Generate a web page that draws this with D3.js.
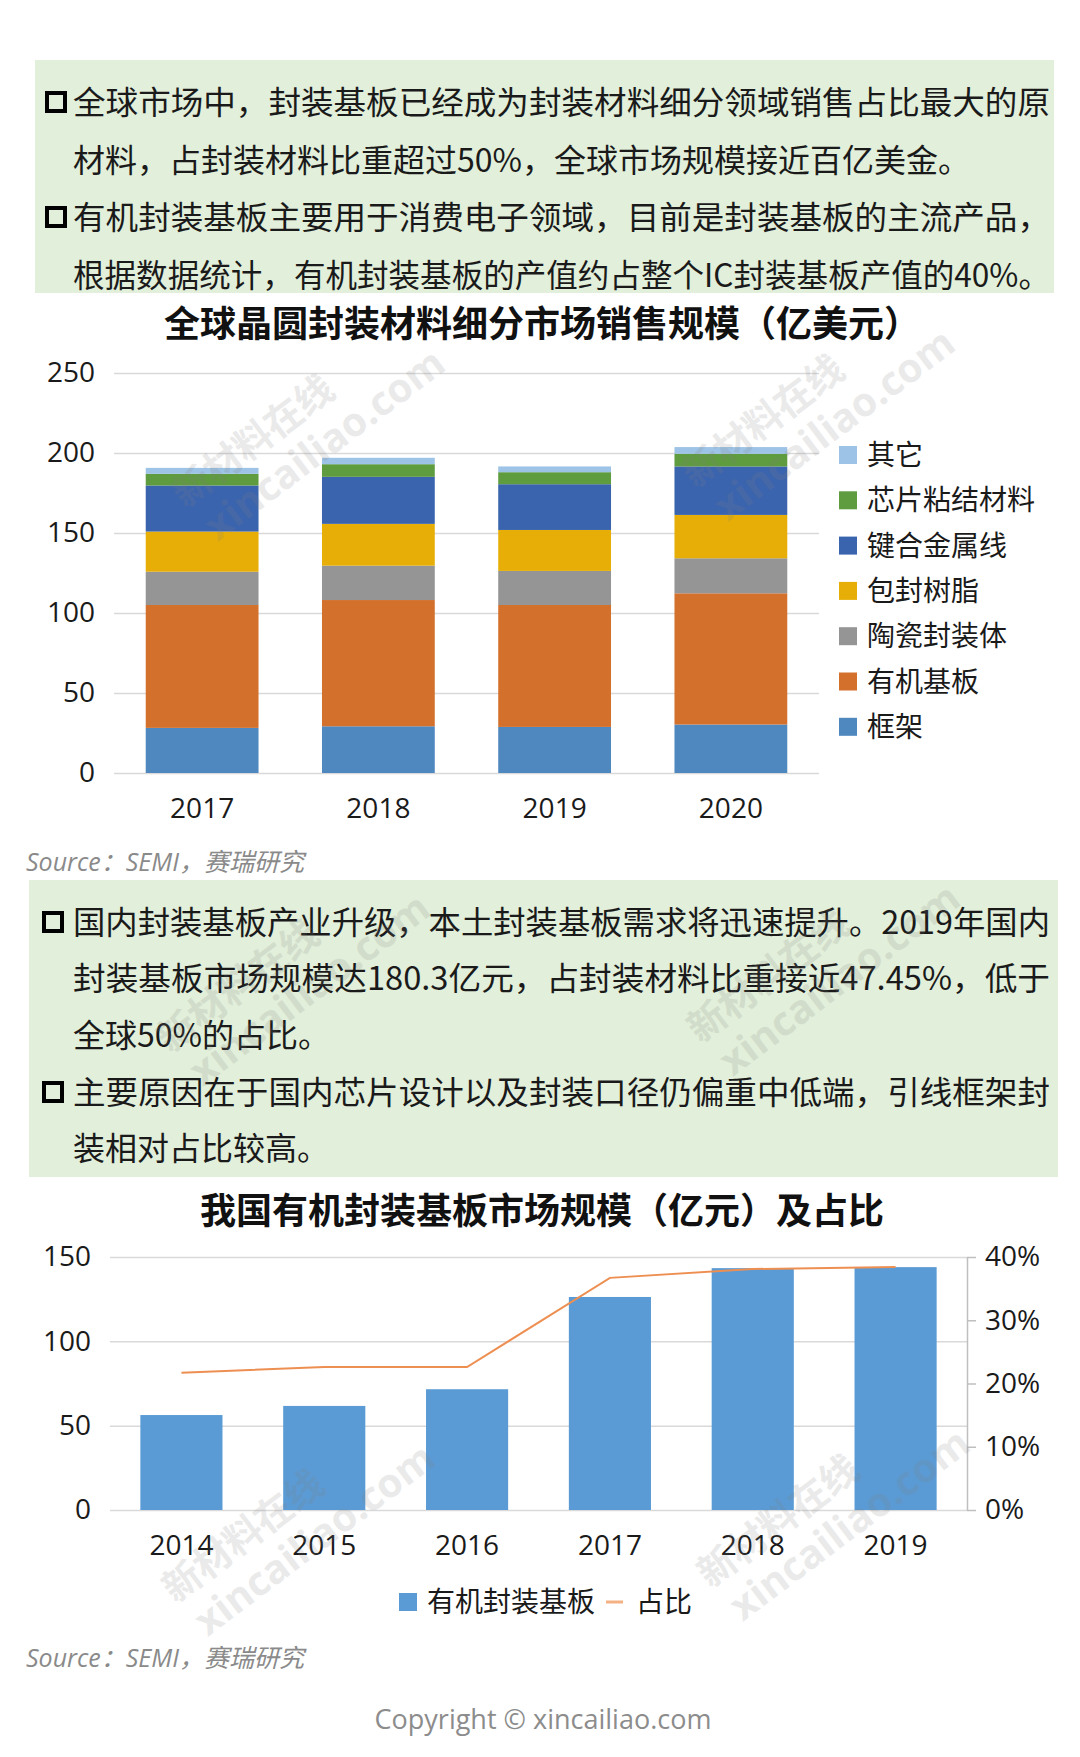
<!DOCTYPE html>
<html>
<head>
<meta charset="utf-8">
<script src="https://cdn.jsdelivr.net/npm/d3@7"></script>
<style>
  body { margin: 0; background: #fff; }
  svg { display: block; }
</style>
</head>
<body>
<svg id="page" width="1080" height="1757"></svg>
<script>
// ---- data: global packaging materials (100M USD) ----
const years1 = ['2017', '2018', '2019', '2020'];
const materials = ['框架', '有机基板', '陶瓷封装体', '包封树脂', '键合金属线', '芯片粘结材料', '其它'];
const frame    = [28.2, 29.2, 28.8, 30.3];
const organic  = [76.8, 78.9, 76.2, 82.0];
const ceramic  = [20.8, 21.5, 21.3, 21.9];
const resin    = [25.1, 26.1, 25.6, 27.1];
const wire     = [28.8, 29.4, 28.6, 30.3];
const adhesive = [7.3, 7.9, 7.5, 7.9];
const other    = [3.7, 4.0, 3.6, 4.2];
const yTicks1 = [0, 50, 100, 150, 200, 250];

// ---- data: domestic organic substrate (100M CNY) and share ----
const years2 = ['2014', '2015', '2016', '2017', '2018', '2019'];
const substrate = [56.3, 61.7, 71.6, 126.3, 143.4, 144.0];
const share = [0.217, 0.226, 0.226, 0.367, 0.381, 0.384];
const yTicks2 = [0, 50, 100, 150];
const rTicks2 = [0, 0.1, 0.2, 0.3, 0.4];

// ---- texts ----
const title1 = '全球晶圆封装材料细分市场销售规模（亿美元）';
const title2 = '我国有机封装基板市场规模（亿元）及占比';
const box1Paras = [
  ['全球市场中，封装基板已经成为封装材料细分领域销售占比最大的原',
   '材料，占封装材料比重超过50%，全球市场规模接近百亿美金。'],
  ['有机封装基板主要用于消费电子领域，目前是封装基板的主流产品，',
   '根据数据统计，有机封装基板的产值约占整个IC封装基板产值的40%。']
];
const box2Paras = [
  ['国内封装基板产业升级，本土封装基板需求将迅速提升。2019年国内',
   '封装基板市场规模达180.3亿元，占封装材料比重接近47.45%，低于',
   '全球50%的占比。'],
  ['主要原因在于国内芯片设计以及封装口径仍偏重中低端，引线框架封',
   '装相对占比较高。']
];
const sourceText = 'Source：SEMI，赛瑞研究';
const copyright = 'Copyright © xincailiao.com';
const legend2 = ['有机封装基板', '占比'];

const CJK = '"Noto Sans CJK SC", sans-serif';
const NUM = '"Open Sans", "Noto Sans CJK SC", sans-serif';
const matColors = ['#4F88BF', '#D3702C', '#959595', '#E6AE06', '#3B64AE', '#5F9B3F', '#9DC3E6'];

const svg = d3.select('#page');

// text block on green background
function textBox(rect, paras, lineYs, bulletX) {
  svg.append('rect')
    .attr('x', rect[0]).attr('y', rect[1]).attr('width', rect[2]).attr('height', rect[3])
    .attr('fill', '#E2EFDA');
  let k = 0;
  paras.forEach(lines => {
    lines.forEach((ln, j) => {
      const y = lineYs[k++];
      if (j === 0) {
        svg.append('rect')
          .attr('x', bulletX + 2).attr('y', y - 9).attr('width', 18).attr('height', 18)
          .attr('fill', 'none').attr('stroke', '#000').attr('stroke-width', 4);
      }
      const t = svg.append('text')
        .attr('x', 73).attr('y', y).attr('dy', '0.36em')
        .attr('font-family', CJK).attr('font-size', 32).attr('fill', '#1a1a1a')
        .text(ln);
      // lines that run to the right edge are fitted to it
      if (t.node().getComputedTextLength() > 930) {
        t.attr('textLength', 977).attr('lengthAdjust', 'spacingAndGlyphs');
      }
    });
  });
}

textBox([35, 60, 1019, 233], box1Paras, [102, 160, 217, 275], 45);
textBox([29, 880, 1029, 297], box2Paras, [922, 978, 1035, 1092, 1148], 42);

function title(txt, y) {
  svg.append('text').attr('x', 542).attr('y', y).attr('dy', '0.36em')
    .attr('text-anchor', 'middle').attr('font-family', CJK)
    .attr('font-size', 36).attr('font-weight', 700).attr('fill', '#111')
    .text(txt);
}
title(title1, 324);
title(title2, 1211);

function source(y) {
  svg.append('text').attr('x', 26).attr('y', y).attr('dy', '0.36em')
    .attr('font-family', NUM).attr('font-style', 'italic')
    .attr('font-size', 25).attr('fill', '#8a8a8a')
    .text(sourceText);
}
source(862);
source(1658);

function styleAxis(g, size) {
  g.select('.domain').remove();
  g.selectAll('.tick line').attr('stroke', '#d9d9d9').attr('stroke-width', 1.5);
  g.selectAll('text').attr('font-family', NUM).attr('font-size', size).attr('fill', '#1a1a1a');
}

// ---- chart 1: stacked bars ----
const table1 = years1.map((yr, i) => ({
  year: yr,
  '框架': frame[i], '有机基板': organic[i], '陶瓷封装体': ceramic[i], '包封树脂': resin[i],
  '键合金属线': wire[i], '芯片粘结材料': adhesive[i], '其它': other[i]
}));
const x1 = d3.scaleBand().domain(years1).range([114, 819]).paddingInner(0.36).paddingOuter(0.18);
const y1 = d3.scaleLinear().domain([0, 250]).range([773, 373]);
const color1 = d3.scaleOrdinal().domain(materials).range(matColors);

svg.append('g').attr('transform', 'translate(114,0)')
  .call(d3.axisLeft(y1).tickValues(yTicks1).tickSize(-(819 - 114)).tickPadding(19))
  .call(g => styleAxis(g, 28));

svg.append('g').attr('transform', 'translate(0,773)')
  .call(d3.axisBottom(x1).tickSize(0).tickPadding(25))
  .call(g => styleAxis(g, 28));

const stacked = d3.stack().keys(materials)(table1);
svg.append('g').selectAll('g').data(stacked).join('g')
  .attr('fill', d => color1(d.key))
  .selectAll('rect').data(d => d).join('rect')
  .attr('x', d => x1(d.data.year))
  .attr('width', x1.bandwidth())
  .attr('y', d => y1(d[1]))
  .attr('height', d => y1(d[0]) - y1(d[1]));

const leg1 = svg.append('g').selectAll('g').data(materials.slice().reverse()).join('g')
  .attr('transform', (d, i) => `translate(839,${455 + i * 45.3})`);
leg1.append('rect').attr('x', 0).attr('y', -9).attr('width', 18).attr('height', 18)
  .attr('fill', d => color1(d));
leg1.append('text').attr('x', 28).attr('dy', '0.36em')
  .attr('font-family', CJK).attr('font-size', 28).attr('fill', '#1a1a1a')
  .text(d => d);

// ---- chart 2: bars + share line ----
const x2 = d3.scaleBand().domain(years2).range([110, 967]).paddingInner(0.425).paddingOuter(0.2125);
const y2 = d3.scaleLinear().domain([0, 150]).range([1510, 1257]);
const yR = d3.scaleLinear().domain([0, 0.4]).range([1510, 1257]);

svg.append('g').attr('transform', 'translate(110,0)')
  .call(d3.axisLeft(y2).tickValues(yTicks2).tickSize(-(967 - 110)).tickPadding(19))
  .call(g => styleAxis(g, 28));

svg.append('g').attr('transform', 'translate(967,0)')
  .call(d3.axisRight(yR).tickValues(rTicks2).tickFormat(d3.format('.0%'))
    .tickSize(9).tickSizeOuter(0).tickPadding(9))
  .call(g => g.select('.domain').attr('stroke', '#bfbfbf').attr('stroke-width', 1.5))
  .call(g => g.selectAll('.tick line').attr('stroke', '#bfbfbf').attr('stroke-width', 1.5))
  .call(g => g.selectAll('text').attr('font-family', NUM).attr('font-size', 28).attr('fill', '#1a1a1a'));

svg.append('g').attr('transform', 'translate(0,1510)')
  .call(d3.axisBottom(x2).tickSize(0).tickPadding(25))
  .call(g => styleAxis(g, 28));

svg.append('g').selectAll('rect').data(years2).join('rect')
  .attr('x', d => x2(d))
  .attr('width', x2.bandwidth())
  .attr('y', (d, i) => y2(substrate[i]))
  .attr('height', (d, i) => y2(0) - y2(substrate[i]))
  .attr('fill', '#5B9BD5');

const line2 = d3.line()
  .x((d, i) => x2(years2[i]) + x2.bandwidth() / 2)
  .y(d => yR(d));
svg.append('path').datum(share)
  .attr('d', line2)
  .attr('fill', 'none').attr('stroke', '#EE8F52').attr('stroke-width', 2);

const leg2 = svg.append('g').attr('transform', 'translate(0,1602)');
leg2.append('rect').attr('x', 399).attr('y', -9).attr('width', 18).attr('height', 18).attr('fill', '#5B9BD5');
leg2.append('text').attr('x', 427).attr('dy', '0.36em')
  .attr('font-family', CJK).attr('font-size', 28).attr('fill', '#1a1a1a').text(legend2[0]);
leg2.append('line').attr('x1', 606).attr('x2', 623).attr('y1', 0).attr('y2', 0)
  .attr('stroke', '#F4B183').attr('stroke-width', 3);
leg2.append('text').attr('x', 636).attr('dy', '0.36em')
  .attr('font-family', CJK).attr('font-size', 28).attr('fill', '#1a1a1a').text(legend2[1]);

// footer
svg.append('text').attr('x', 543).attr('y', 1719).attr('dy', '0.36em')
  .attr('text-anchor', 'middle').attr('font-family', NUM)
  .attr('font-size', 27).attr('fill', '#8c8c8c')
  .text(copyright);

// faint site watermarks
const marks = [[290, 440], [800, 420], [275, 985], [805, 975], [280, 1535], [815, 1520]];
const wm = svg.append('g').attr('pointer-events', 'none')
  .selectAll('g').data(marks).join('g')
  .attr('transform', d => `translate(${d[0]},${d[1]}) rotate(-37)`)
  .attr('fill', '#7f7f7f').attr('opacity', 0.16)
  .attr('font-weight', 700);
wm.append('text').attr('x', -30).attr('y', -8).attr('text-anchor', 'middle')
  .attr('font-family', CJK).attr('font-size', 38).text('新材料在线');
wm.append('text').attr('x', 25).attr('y', 38).attr('text-anchor', 'middle')
  .attr('font-family', NUM).attr('font-size', 40).text('xincailiao.com');
</script>
</body>
</html>
